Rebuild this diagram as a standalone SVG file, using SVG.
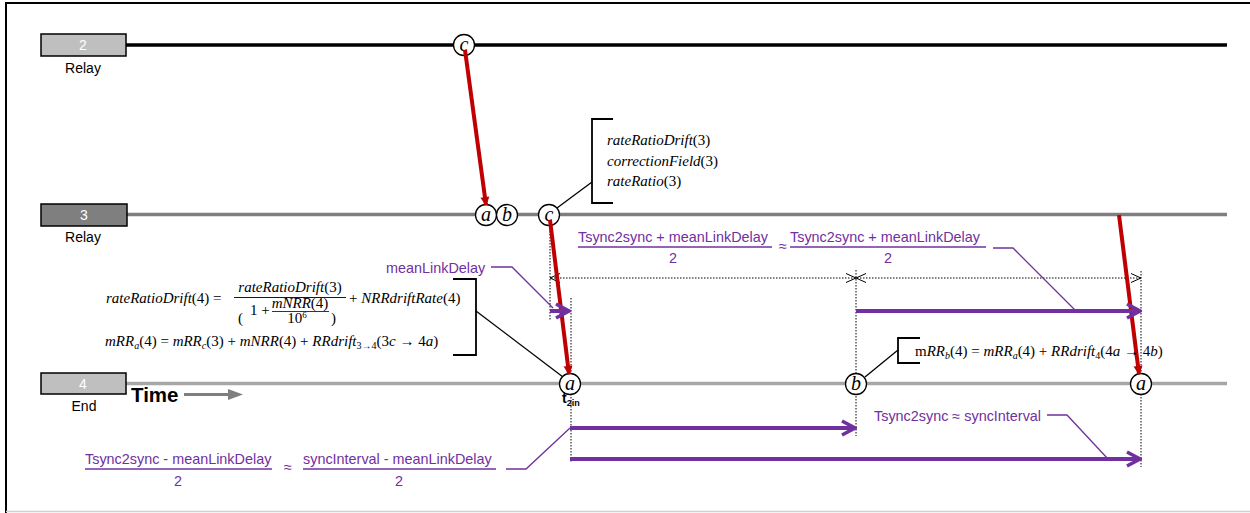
<svg xmlns="http://www.w3.org/2000/svg" width="1250" height="513" viewBox="0 0 1250 513">
<style>
.lbl{font-family:"Liberation Sans",Arial,sans-serif;font-size:14px;fill:#000}
.num{font-family:"Liberation Sans",Arial,sans-serif;font-size:14px;fill:#fff;text-anchor:middle}
.pu{font-family:"Liberation Sans",Arial,sans-serif;font-size:14.4px;fill:#7030a0}
.m{font-family:"Liberation Serif","Times New Roman",serif;font-size:15px;fill:#000}
.i{font-style:italic}
.box{stroke:#000;stroke-width:1.5}
.ev{fill:#fff;stroke:#000;stroke-width:1.3}
.evt{font-family:"Liberation Serif","Times New Roman",serif;font-style:italic;font-size:20px;text-anchor:middle;fill:#000}
.red{stroke:#c00000;stroke-width:4;fill:none}
.pa{stroke:#7030a0;stroke-width:4;fill:none}
.pl{stroke:#7030a0;stroke-width:1.3;fill:none}
.dot{stroke:#000;stroke-width:1;stroke-dasharray:1.5 1.5;fill:none}
.chev{stroke:#000;stroke-width:1;fill:none}
.blk{stroke:#000;stroke-width:1.3;fill:none}
.br{stroke:#000;stroke-width:1.8;fill:none}
</style>
<defs>
<marker id="rh" markerUnits="userSpaceOnUse" viewBox="-10 -6 12 12" markerWidth="12" markerHeight="12" refX="0" refY="0" orient="auto"><path d="M-8,-4.5 L1,0 L-8,4.5 z" fill="#c00000"/></marker>
<marker id="ph" markerUnits="userSpaceOnUse" viewBox="-16 -10 18 20" markerWidth="18" markerHeight="20" refX="0" refY="0" orient="auto"><path d="M-13,-7 L0,0 L-13,7" fill="none" stroke="#7030a0" stroke-width="3.5" stroke-linejoin="miter"/></marker>
</defs>

<!-- frame -->
<path d="M1250,3 H6 V513" fill="none" stroke="#000" stroke-width="2"/>
<path d="M6,511.5 H1250" fill="none" stroke="#d0d0d0" stroke-width="1.5"/>

<!-- timelines -->
<g id="node-2">
<path d="M126,45 H1227" stroke="#000" stroke-width="3.5"/>
<rect class="box" x="41" y="34" width="85" height="22" fill="#bfbfbf"/>
<text class="num" x="83" y="50">2</text>
<text class="lbl" x="83" y="73" text-anchor="middle">Relay</text>
</g>
<g id="node-3">
<path d="M127,214.5 H1227" stroke="#7f7f7f" stroke-width="3.5"/>
<rect class="box" x="41" y="204" width="86" height="22" fill="#7f7f7f"/>
<text class="num" x="84" y="220">3</text>
<text class="lbl" x="83" y="242" text-anchor="middle">Relay</text>
</g>
<g id="node-4">
<path d="M126,383.5 H1227" stroke="#a6a6a6" stroke-width="3.5"/>
<rect class="box" x="41" y="373" width="85" height="21" fill="#bfbfbf"/>
<text class="num" x="83" y="389">4</text>
<text class="lbl" x="84" y="411" text-anchor="middle">End</text>
</g>

<g id="time-axis">
<text x="131" y="402" font-family="'Liberation Sans',Arial,sans-serif" font-weight="bold" font-size="20.5px">Time</text>
<path d="M184,394.5 H230" stroke="#7f7f7f" stroke-width="3"/>
<path d="M228,389 L243,394.5 L228,400 z" fill="#7f7f7f"/>
</g>

<!-- dotted guides -->
<g id="guides">
<path class="dot" d="M550,222 V320"/>
<path class="dot" d="M571,298 V463"/>
<path class="dot" d="M856,270 V436"/>
<path class="dot" d="M1141,271 V467"/>
<path class="dot" d="M551,278 H1141"/>
<path class="chev" d="M560,273.5 L550,278 L560,282.5"/>
<path class="chev" d="M846,273.5 L856,278 L846,282.5"/>
<path class="chev" d="M866,273.5 L856,278 L866,282.5"/>
<path class="chev" d="M1131,273.5 L1141,278 L1131,282.5"/>
</g>

<!-- events -->
<g id="ev-2c"><circle class="ev" cx="464" cy="45" r="10.5"/><text class="evt" x="464" y="51">c</text></g>
<g id="ev-3a"><circle class="ev" cx="486" cy="215" r="10.5"/><text class="evt" x="486" y="221">a</text></g>
<g id="ev-3b"><circle class="ev" cx="507" cy="215" r="10.5"/><text class="evt" x="507" y="221">b</text></g>
<g id="ev-3c"><circle class="ev" cx="549" cy="215" r="10.5"/><text class="evt" x="549" y="221">c</text></g>
<g id="ev-4a1"><circle class="ev" cx="570" cy="384" r="10.5"/><text class="evt" x="570" y="390">a</text>
<text x="562" y="403" font-family="'Liberation Sans',Arial,sans-serif" font-weight="bold" font-size="14px">t<tspan font-size="9px" dy="3">2in</tspan></text></g>
<g id="ev-4b"><circle class="ev" cx="856" cy="384" r="10.5"/><text class="evt" x="856" y="390">b</text></g>
<g id="ev-4a2"><circle class="ev" cx="1141" cy="384" r="10.5"/><text class="evt" x="1141" y="390">a</text></g>

<!-- connectors -->
<g id="connectors">
<path class="red" d="M465,50 L486,205" marker-end="url(#rh)"/>
<path class="red" d="M550,220 L569,374" marker-end="url(#rh)"/>
<path class="red" d="M1119,215 L1139,374" marker-end="url(#rh)"/>
<path class="pa" d="M550,311 H569" marker-end="url(#ph)"/>
<path class="pa" d="M856,311 H1140" marker-end="url(#ph)"/>
<path class="pa" d="M570,428 H855" marker-end="url(#ph)"/>
<path class="pa" d="M570,459 H1140" marker-end="url(#ph)"/>
<path class="blk" d="M557,208 L592,182"/>
<path class="blk" d="M476,311 L563,377"/>
<path class="blk" d="M898,350 L865,377"/>
<path class="pl" d="M491,267 H512 L553,308"/>
<path class="pl" d="M993,248 H1013 L1075,310"/>
<path class="pl" d="M1047,415 H1067 L1108,459"/>
<path class="pl" d="M506,469 H526 L570,428"/>
</g>

<!-- annotation: node 3 fields -->
<g id="note-3c">
<path class="br" d="M613,119 H592 V203 H613"/>
<text class="m" x="607" y="145" font-size="16px"><tspan class="i">rateRatioDrift</tspan>(3)</text>
<text class="m" x="607" y="166" font-size="16px"><tspan class="i">correctionField</tspan>(3)</text>
<text class="m" x="607" y="186" font-size="16px"><tspan class="i">rateRatio</tspan>(3)</text>
</g>

<!-- annotation: formulas at 4a -->
<g id="note-4a">
<path class="br" d="M453,279 H476 V355 H453"/>
<text class="m" x="106" y="303"><tspan class="i">rateRatioDrift</tspan>(4) =</text>
<text class="m" x="290" y="292" text-anchor="middle"><tspan class="i">rateRatioDrift</tspan>(3)</text>
<path d="M234,297.5 H346" stroke="#000" stroke-width="0.9"/>
<text class="m" x="238" y="323" font-size="31px">(</text>
<text class="m" x="250" y="315">1 +</text>
<text class="m" x="300" y="308" text-anchor="middle" font-size="13px"><tspan class="i">mNRR</tspan>(4)</text>
<path d="M272,311.5 H329" stroke="#000" stroke-width="0.8"/>
<text class="m" x="297" y="323" text-anchor="middle" font-size="13px">10<tspan font-size="9px" dy="-5">6</tspan></text>
<text class="m" x="331" y="323" font-size="31px">)</text>
<text class="m" x="349" y="303">+ <tspan class="i">NRRdriftRate</tspan>(4)</text>
<text class="m" x="105" y="346"><tspan class="i">mRR</tspan><tspan class="i" font-size="10px" dy="3">a</tspan><tspan dy="-3">(4) = </tspan><tspan class="i">mRR</tspan><tspan class="i" font-size="10px" dy="3">c</tspan><tspan dy="-3">(3) + </tspan><tspan class="i">mNRR</tspan><tspan>(4) + </tspan><tspan class="i">RRdrift</tspan><tspan font-size="10px" dy="3">3→4</tspan><tspan dy="-3">(3</tspan><tspan class="i">c</tspan><tspan> → 4</tspan><tspan class="i">a</tspan><tspan>)</tspan></text>
</g>

<!-- annotation: 4b -->
<g id="note-4b">
<path class="br" d="M920,338 H898 V363 H920"/>
<text class="m" x="915" y="356">m<tspan class="i">RR</tspan><tspan class="i" font-size="10px" dy="3">b</tspan><tspan dy="-3">(4) = </tspan><tspan class="i">mRR</tspan><tspan class="i" font-size="10px" dy="3">a</tspan><tspan dy="-3">(4) + </tspan><tspan class="i">RRdrift</tspan><tspan font-size="10px" dy="3">4</tspan><tspan dy="-3">(4</tspan><tspan class="i">a</tspan><tspan> → 4</tspan><tspan class="i">b</tspan><tspan>)</tspan></text>
</g>

<!-- purple labels -->
<g id="labels">
<text class="pu" x="386" y="273">meanLinkDelay</text>
<text class="pu" x="578" y="242">Tsync2sync + meanLinkDelay</text>
<path class="pl" d="M578,247 H772"/>
<text class="pu" x="673" y="263" text-anchor="middle">2</text>
<text class="pu" x="783" y="251" text-anchor="middle" font-size="12px">≈</text>
<text class="pu" x="790" y="242">Tsync2sync + meanLinkDelay</text>
<path class="pl" d="M790,247 H986"/>
<text class="pu" x="888" y="263" text-anchor="middle">2</text>
<text class="pu" x="874" y="421">Tsync2sync ≈ syncInterval</text>
<text class="pu" x="85" y="464">Tsync2sync - meanLinkDelay</text>
<path class="pl" d="M85,469 H272"/>
<text class="pu" x="178" y="486" text-anchor="middle">2</text>
<text class="pu" x="288" y="472" text-anchor="middle" font-size="12px">≈</text>
<text class="pu" x="303" y="464">syncInterval - meanLinkDelay</text>
<path class="pl" d="M303,469 H496"/>
<text class="pu" x="399" y="486" text-anchor="middle">2</text>
</g>
</svg>
